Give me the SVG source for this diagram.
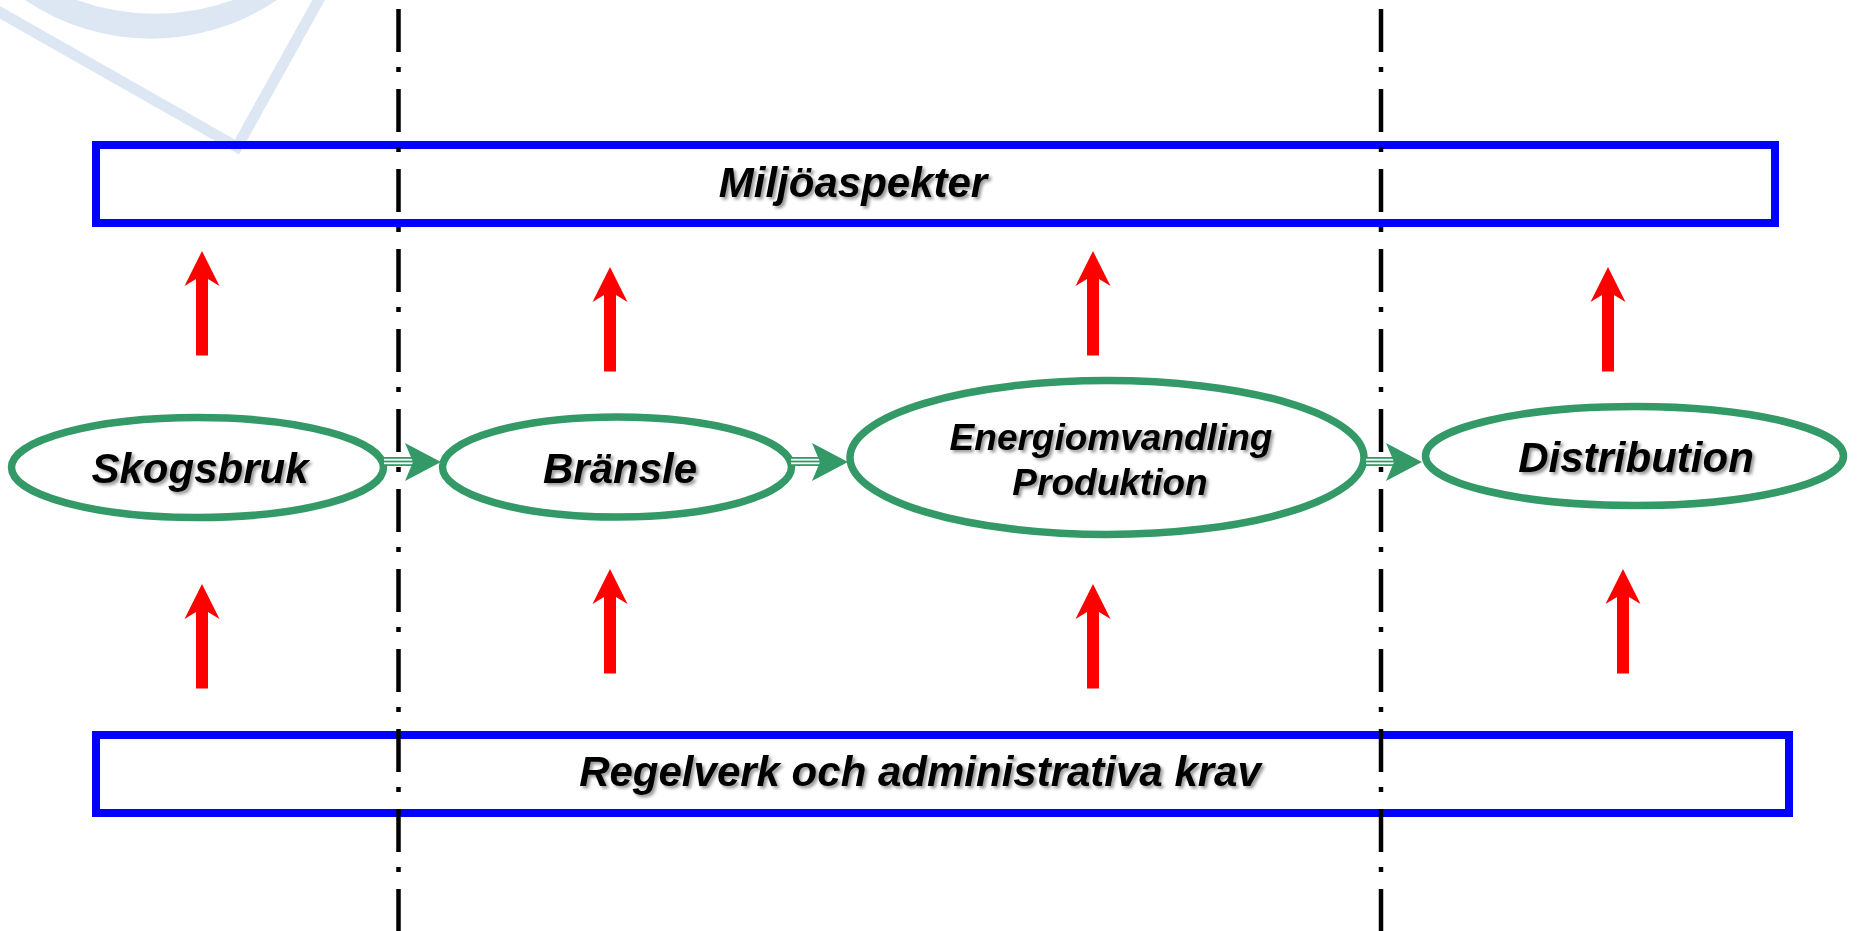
<svg xmlns="http://www.w3.org/2000/svg" width="1858" height="931" viewBox="0 0 1858 931">
  <style>
    .box { fill: none; stroke: #0000FF; stroke-width: 8; }
    .node { fill: #FFFFFF; stroke: #339966; stroke-width: 7.5; }
    .lbl { font-family: "Liberation Sans", Arial, sans-serif; font-weight: bold; font-style: italic; fill: #000000; text-anchor: middle; filter: url(#shadow); }
    .sep { stroke: #000000; stroke-width: 4.5; stroke-dasharray: 43 15 5 17; fill: none; }
    .shaft { stroke: #339966; stroke-width: 9; }
    .stripe { stroke: #FFFFFF; stroke-width: 1.8; }
    .wm { fill: #DDE7F3; }
    .wml { fill: none; stroke: #DDE7F3; stroke-width: 11; stroke-linejoin: miter; stroke-miterlimit: 10; }
  </style>
  <defs>
    <filter id="shadow" x="-10%" y="-30%" width="120%" height="160%">
      <feDropShadow dx="2.5" dy="2.5" stdDeviation="1.8" flood-color="#000000" flood-opacity="0.4"/>
    </filter>
    <path id="redArrow" d="M0,0 L17.5,35 L6,28 L6,104.5 L-6,104.5 L-6,28 L-17.5,35 Z" fill="#FF0000"/>
    <path id="greenHead" d="M0,0 L-36,-19 L-28,0 L-36,19 Z" fill="#339966"/>
  </defs>

  <rect x="0" y="0" width="1858" height="931" fill="#FFFFFF"/>

  <g id="watermark">
    <path class="wm" d="M25,0 A224.6,224.6 0 0 0 277,0 L233,0 A228,228 0 0 1 77,0 Z"/>
    <polyline class="wml" points="-6,9 237,147 322,-6"/>
  </g>

  <g id="miljoaspekter">
    <rect class="box" x="96" y="145" width="1679" height="78"/>
    <text class="lbl" x="853" y="197" font-size="42">Miljöaspekter</text>
  </g>

  <g id="regelverk">
    <rect class="box" x="96" y="735" width="1693" height="78"/>
    <text class="lbl" x="920" y="786" font-size="42">Regelverk och administrativa krav</text>
  </g>

  <g id="skogsbruk">
    <ellipse class="node" cx="197.5" cy="467.5" rx="186" ry="50"/>
    <text class="lbl" x="200" y="483" font-size="42">Skogsbruk</text>
  </g>

  <g id="bransle">
    <ellipse class="node" cx="617" cy="467" rx="174.5" ry="50"/>
    <text class="lbl" x="620" y="483" font-size="42">Bränsle</text>
  </g>

  <g id="energiomvandling">
    <ellipse class="node" cx="1107" cy="457.5" rx="257" ry="77"/>
    <text class="lbl" x="1111" y="450" font-size="37">Energiomvandling</text>
    <text class="lbl" x="1110" y="495" font-size="37">Produktion</text>
  </g>

  <g id="distribution">
    <ellipse class="node" cx="1634.5" cy="456" rx="209" ry="49.5"/>
    <text class="lbl" x="1636" y="472" font-size="42">Distribution</text>
  </g>

  <g id="connectors">
    <!-- Skogsbruk -> Bränsle -->
    <line class="shaft" x1="384" y1="461.5" x2="414" y2="461.5"/>
    <line class="stripe" x1="384" y1="459.7" x2="414" y2="459.7"/>
    <line class="stripe" x1="384" y1="463.3" x2="414" y2="463.3"/>
    <use href="#greenHead" x="441" y="462"/>
    <!-- Bränsle -> Energiomvandling -->
    <line class="shaft" x1="791" y1="461.5" x2="821" y2="461.5"/>
    <line class="stripe" x1="791" y1="459.7" x2="821" y2="459.7"/>
    <line class="stripe" x1="791" y1="463.3" x2="821" y2="463.3"/>
    <use href="#greenHead" x="848" y="462"/>
    <!-- Energiomvandling -> Distribution -->
    <line class="shaft" x1="1366" y1="461.5" x2="1395" y2="461.5"/>
    <line class="stripe" x1="1366" y1="459.7" x2="1395" y2="459.7"/>
    <line class="stripe" x1="1366" y1="463.3" x2="1395" y2="463.3"/>
    <use href="#greenHead" x="1422" y="462"/>

    <!-- upward arrows to Miljöaspekter -->
    <use href="#redArrow" x="202" y="251"/>
    <use href="#redArrow" x="610" y="267"/>
    <use href="#redArrow" x="1093" y="251"/>
    <use href="#redArrow" x="1608" y="267"/>
    <!-- upward arrows from Regelverk -->
    <use href="#redArrow" x="202" y="584"/>
    <use href="#redArrow" x="610" y="569"/>
    <use href="#redArrow" x="1093" y="584"/>
    <use href="#redArrow" x="1623" y="569"/>
  </g>

  <g id="separators">
    <line class="sep" x1="398.5" y1="-71" x2="398.5" y2="931"/>
    <line class="sep" x1="1381" y1="-71" x2="1381" y2="931"/>
  </g>
</svg>
